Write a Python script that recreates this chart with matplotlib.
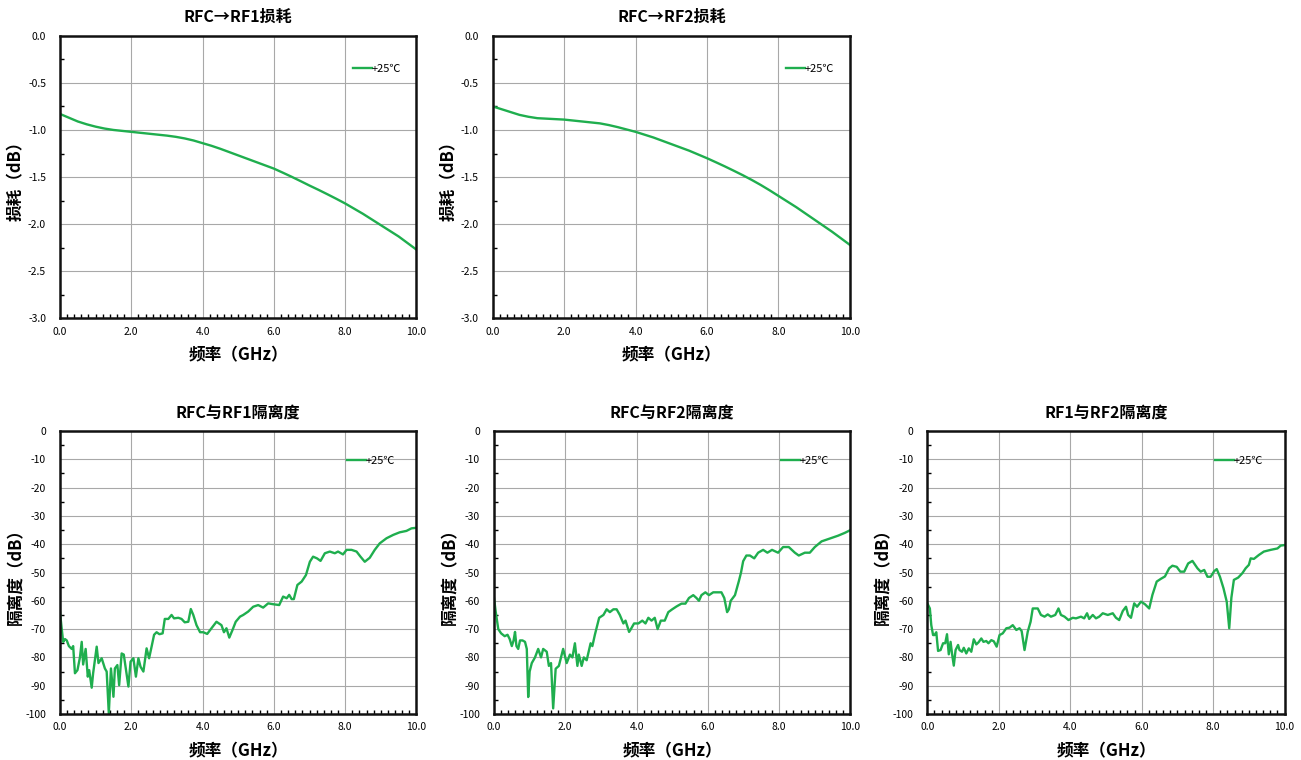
import matplotlib
matplotlib.use("Agg")
import matplotlib.pyplot as plt
from matplotlib.ticker import MultipleLocator, FormatStrFormatter

plt.rcParams['font.family'] = ['Noto Sans CJK SC', 'DejaVu Sans']

GREEN = '#1fae4e'

# ---- insertion loss data (GHz, dB) ----
loss_freq = [0.0, 0.25, 0.5, 0.75, 1.0, 1.25, 1.5, 1.75, 2.0, 2.25, 2.5, 2.75, 3.0, 3.25,
             3.5, 3.75, 4.0, 4.25, 4.5, 4.75, 5.0, 5.25, 5.5, 5.75, 6.0, 6.25, 6.5, 6.75,
             7.0, 7.25, 7.5, 7.75, 8.0, 8.25, 8.5, 8.75, 9.0, 9.25, 9.5, 9.75, 10.0]
loss_rf1 = [-0.83, -0.87, -0.91, -0.94, -0.965, -0.985, -1.00, -1.01, -1.02, -1.03, -1.04,
            -1.05, -1.06, -1.073, -1.09, -1.112, -1.14, -1.168, -1.20, -1.235, -1.27, -1.305,
            -1.34, -1.375, -1.41, -1.453, -1.497, -1.543, -1.59, -1.635, -1.682, -1.73, -1.78,
            -1.835, -1.89, -1.95, -2.01, -2.07, -2.13, -2.20, -2.27]
loss_rf2 = [-0.75, -0.78, -0.81, -0.84, -0.86, -0.875, -0.88, -0.885, -0.89, -0.90, -0.91,
            -0.92, -0.93, -0.948, -0.97, -0.995, -1.02, -1.05, -1.08, -1.115, -1.15, -1.185,
            -1.22, -1.26, -1.30, -1.343, -1.387, -1.433, -1.48, -1.53, -1.583, -1.64, -1.70,
            -1.76, -1.82, -1.885, -1.95, -2.015, -2.08, -2.15, -2.22]

# ---- isolation RFC-RF1 ----
iso1_freq = [0.00, 0.05, 0.09, 0.14, 0.19, 0.25, 0.33, 0.37, 0.42, 0.49, 0.56, 0.61, 0.65,
             0.72, 0.78, 0.82, 0.89, 0.93, 1.03, 1.08, 1.17, 1.26, 1.31, 1.37, 1.43, 1.50,
             1.54, 1.61, 1.66, 1.73, 1.79, 1.92, 1.98, 2.06, 2.13, 2.20, 2.26, 2.34, 2.43,
             2.50, 2.57, 2.64, 2.71, 2.79, 2.88, 2.94, 3.04, 3.13, 3.20, 3.32, 3.41, 3.50,
             3.60, 3.67, 3.74, 3.83, 3.93, 4.02, 4.13, 4.25, 4.39, 4.53, 4.60, 4.67, 4.75,
             4.84, 4.93, 5.05, 5.14, 5.28, 5.42, 5.56, 5.70, 5.84, 5.98, 6.15, 6.26, 6.36,
             6.43, 6.50, 6.56, 6.66, 6.78, 6.90, 7.01, 7.10, 7.21, 7.31, 7.43, 7.57, 7.71,
             7.80, 7.94, 8.04, 8.18, 8.32, 8.43, 8.55, 8.69, 8.83, 8.97, 9.16, 9.35, 9.53,
             9.72, 9.86, 10.0]
iso1_db = [-64.0, -70.0, -74.5, -73.5, -74.0, -76.0, -77.0, -76.0, -85.6, -84.5, -80.0, -74.5,
           -82.5, -77.0, -86.8, -84.5, -90.7, -85.6, -76.2, -82.0, -80.3, -83.9, -85.0, -99.8,
           -83.9, -93.9, -83.9, -82.7, -89.8, -78.6, -79.0, -90.3, -81.5, -80.3, -86.8, -80.3,
           -83.3, -85.0, -76.8, -80.3, -76.2, -72.0, -71.1, -71.8, -71.5, -66.4, -66.4, -65.0,
           -66.2, -66.0, -66.4, -67.6, -67.4, -62.9, -65.0, -68.6, -71.1, -71.1, -71.7, -69.7,
           -67.4, -68.6, -71.1, -69.7, -73.0, -70.3, -67.4, -65.6, -65.0, -63.8, -62.1, -61.5,
           -62.4, -60.9, -61.2, -61.5, -58.5, -59.1, -57.9, -59.4, -59.4, -54.4, -53.2, -50.9,
           -46.2, -44.4, -45.0, -45.9, -43.2, -42.6, -43.2, -42.6, -43.6, -42.0, -42.0, -42.6,
           -44.4, -46.2, -44.8, -42.0, -39.7, -37.9, -36.7, -35.8, -35.3, -34.4, -34.2]

# ---- isolation RFC-RF2 ----
iso2_freq = [0.00, 0.05, 0.12, 0.20, 0.30, 0.38, 0.44, 0.50, 0.55, 0.59,
             0.63, 0.68, 0.73, 0.80, 0.87, 0.92, 0.96, 1.00, 1.06, 1.15,
             1.24, 1.32, 1.38, 1.48, 1.54, 1.60, 1.66, 1.73, 1.82, 1.94,
             2.04, 2.13, 2.20, 2.27, 2.34, 2.38, 2.46, 2.52, 2.60, 2.71,
             2.76, 2.83, 2.95, 3.07, 3.16, 3.25, 3.35, 3.44, 3.53, 3.63,
             3.69, 3.79, 3.84, 3.93, 4.05, 4.16, 4.25, 4.33, 4.42, 4.51,
             4.59, 4.68, 4.79, 4.89, 5.00, 5.12, 5.26, 5.37, 5.47, 5.59,
             5.68, 5.75, 5.82, 5.93, 6.03, 6.15, 6.29, 6.38, 6.46, 6.54,
             6.59, 6.64, 6.76, 6.87, 6.93, 6.99, 7.08, 7.18, 7.30, 7.41,
             7.55, 7.67, 7.80, 7.97, 8.11, 8.27, 8.44, 8.55, 8.72, 8.86,
             9.00, 9.19, 9.42, 9.65, 9.84, 10.0]
iso2_db = [-59.0, -64.0, -70.0, -71.5, -72.5, -72.0, -73.5, -76.0, -74.0, -71.0,
           -76.0, -77.0, -74.0, -74.0, -74.5, -77.0, -94.0, -85.0, -82.0, -80.0,
           -77.0, -80.0, -77.0, -78.0, -83.0, -82.0, -98.0, -84.0, -83.0, -77.0,
           -82.0, -79.0, -80.0, -75.0, -83.0, -79.0, -83.0, -80.0, -81.0, -75.0,
           -76.0, -72.0, -66.0, -65.0, -63.0, -64.0, -63.0, -63.0, -65.0, -68.0,
           -67.0, -71.0, -70.0, -68.0, -68.0, -67.0, -68.0, -66.0, -67.0, -66.0,
           -70.0, -67.0, -67.0, -64.0, -63.0, -62.0, -61.0, -61.0, -59.0, -58.0,
           -59.0, -60.0, -58.0, -57.0, -58.0, -57.0, -57.0, -57.0, -59.0, -64.0,
           -63.0, -60.0, -58.0, -53.0, -50.0, -46.0, -44.0, -44.0, -45.0, -43.0,
           -42.0, -43.0, -42.0, -43.0, -41.0, -41.0, -43.0, -44.0, -43.0, -43.0,
           -41.0, -39.0, -38.0, -37.0, -36.0, -35.0]

# ---- isolation RF1-RF2 ----
iso3_freq = [0.00, 0.07, 0.11, 0.16, 0.20, 0.25, 0.30, 0.37, 0.44, 0.50, 0.55, 0.60, 0.65,
             0.69, 0.74, 0.79, 0.86, 0.90, 0.97, 1.02, 1.09, 1.16, 1.23, 1.30, 1.37, 1.43,
             1.51, 1.57, 1.65, 1.71, 1.79, 1.86, 1.94, 2.02, 2.11, 2.21, 2.30, 2.39, 2.49,
             2.58, 2.64, 2.72, 2.81, 2.89, 2.95, 3.09, 3.18, 3.28, 3.37, 3.46, 3.58, 3.67,
             3.74, 3.84, 3.95, 4.07, 4.16, 4.30, 4.39, 4.47, 4.53, 4.63, 4.72, 4.81, 4.91,
             5.05, 5.19, 5.28, 5.37, 5.47, 5.56, 5.62, 5.70, 5.79, 5.87, 5.98, 6.09, 6.21,
             6.30, 6.42, 6.54, 6.65, 6.77, 6.86, 6.98, 7.08, 7.19, 7.30, 7.42, 7.56, 7.65,
             7.75, 7.84, 7.93, 8.03, 8.10, 8.19, 8.29, 8.38, 8.45, 8.51, 8.58, 8.70, 8.82,
             8.91, 9.00, 9.05, 9.14, 9.28, 9.42, 9.61, 9.80, 9.89, 10.0]
iso3_db = [-60.9, -62.7, -68.6, -72.1, -72.1, -71.1, -77.7, -77.4, -75.0, -75.0, -71.8, -78.9,
           -74.5, -78.6, -82.9, -77.4, -75.6, -77.4, -78.0, -76.6, -78.6, -76.8, -78.0, -73.6,
           -75.4, -74.7, -73.3, -74.5, -74.2, -75.0, -73.9, -74.3, -76.2, -72.1, -71.5, -69.7,
           -69.5, -68.6, -70.3, -69.7, -70.7, -77.4, -70.9, -67.4, -62.7, -62.7, -65.0, -65.6,
           -64.8, -65.6, -65.0, -62.7, -65.0, -65.6, -66.8, -66.0, -66.2, -65.6, -66.2, -64.4,
           -66.4, -65.0, -66.2, -65.6, -64.4, -65.0, -64.4, -66.0, -66.8, -63.6, -62.1, -65.0,
           -66.0, -60.9, -62.1, -60.3, -61.2, -62.7, -57.9, -53.2, -52.2, -51.4, -48.5, -47.6,
           -48.0, -49.7, -49.7, -46.8, -45.9, -48.5, -49.7, -49.1, -51.5, -51.5, -49.5, -48.8,
           -51.5, -55.6, -60.3, -69.7, -58.9, -52.6, -51.8, -50.2, -48.5, -47.3, -45.0, -45.2,
           -43.8, -42.6, -42.0, -41.5, -40.5, -40.3]

xlab = '频率（GHz）'


def setup(ax, title, ylab, ylim, ymajor, fmt, leg_at):
    ax.set_xlim(0, 10)
    ax.set_ylim(*ylim)
    ax.xaxis.set_major_locator(MultipleLocator(2))
    ax.xaxis.set_minor_locator(MultipleLocator(0.2))
    ax.yaxis.set_major_locator(MultipleLocator(ymajor))
    ax.yaxis.set_minor_locator(MultipleLocator(ymajor / 2))
    ax.xaxis.set_major_formatter(FormatStrFormatter('%.1f'))
    ax.yaxis.set_major_formatter(FormatStrFormatter(fmt))
    ax.grid(True, which='major', color='#a8a8a8', lw=0.8)
    ax.tick_params(which='both', direction='in', labelsize=7.5)
    ax.tick_params(axis='x', which='major', length=0, pad=6)
    ax.tick_params(axis='y', which='major', length=0, pad=10)
    ax.tick_params(which='minor', length=3, width=1)
    for s in ax.spines.values():
        s.set_linewidth(1.8)
        s.set_color('#111111')
    ax.set_title(title, fontsize=11.5, fontweight='bold', pad=10)
    ax.set_xlabel(xlab, fontsize=12, fontweight='bold', labelpad=7)
    ax.set_ylabel(ylab, fontsize=12, fontweight='bold')
    ax.yaxis.set_label_coords(-0.098, 0.5)
    ax.legend(loc='upper right', bbox_to_anchor=leg_at, frameon=False,
              fontsize=8, handlelength=1.7, handletextpad=0.0)


fig = plt.figure(figsize=(13.01, 7.60), dpi=100)

ax1 = fig.add_axes([0.0461, 0.581, 0.274, 0.372])
ax1.plot(loss_freq, loss_rf1, color=GREEN, lw=1.7, label='+25℃')
setup(ax1, 'RFC→RF1损耗', '损耗（dB）', (-3.0, 0.0), 0.5, '%.1f', (0.985, 0.935))

ax2 = fig.add_axes([0.3787, 0.581, 0.2746, 0.372])
ax2.plot(loss_freq, loss_rf2, color=GREEN, lw=1.7, label='+25℃')
setup(ax2, 'RFC→RF2损耗', '损耗（dB）', (-3.0, 0.0), 0.5, '%.1f', (0.985, 0.935))

ax3 = fig.add_axes([0.0461, 0.0605, 0.274, 0.3724])
ax3.plot(iso1_freq, iso1_db, color=GREEN, lw=1.7, label='+25℃')
setup(ax3, 'RFC与RF1隔离度', '隔离度（dB）', (-100, 0), 10, '%d', (0.968, 0.948))

ax4 = fig.add_axes([0.3797, 0.0605, 0.274, 0.3724])
ax4.plot(iso2_freq, iso2_db, color=GREEN, lw=1.7, label='+25℃')
setup(ax4, 'RFC与RF2隔离度', '隔离度（dB）', (-100, 0), 10, '%d', (0.968, 0.948))

ax5 = fig.add_axes([0.7128, 0.0605, 0.2746, 0.3724])
ax5.plot(iso3_freq, iso3_db, color=GREEN, lw=1.7, label='+25℃')
setup(ax5, 'RF1与RF2隔离度', '隔离度（dB）', (-100, 0), 10, '%d', (0.968, 0.948))

fig.savefig('out.png', dpi=100)
